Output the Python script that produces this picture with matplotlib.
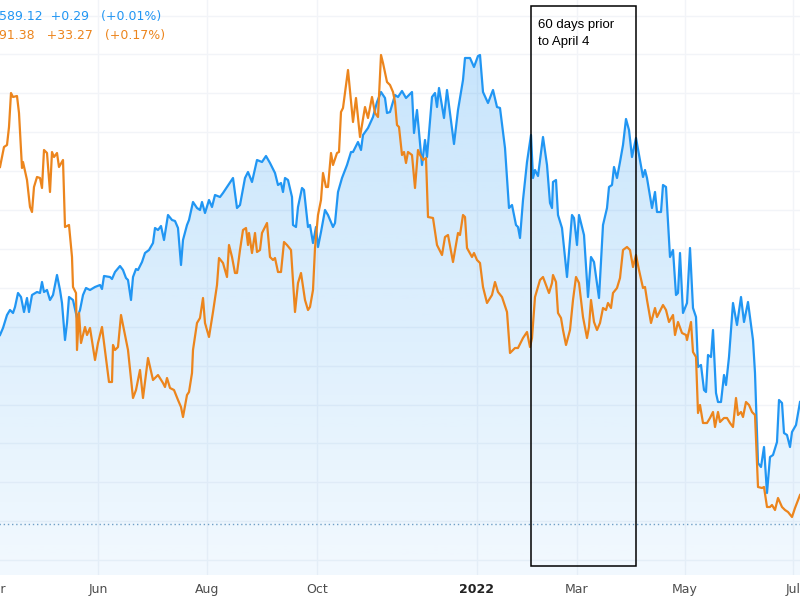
import numpy as np
import matplotlib
matplotlib.use("Agg")
import matplotlib.pyplot as plt
from matplotlib.colors import to_rgb
from matplotlib.patches import Rectangle
import matplotlib.transforms as mtransforms

# time index (sessions, chart units) and levels
blue_t = [0, 3, 7, 10, 13, 15, 18, 21, 24, 27, 29, 32, 37, 40, 42, 44, 47, 50, 53, 57,
          60, 62, 65, 67, 69, 73, 77, 80, 83, 86, 90, 95, 100, 102, 104, 110, 112, 115, 120, 123,
          126, 128, 131, 133, 136, 138, 142, 145, 149, 153, 155, 158, 161, 164, 168, 172, 175, 178, 181, 183,
          187, 189, 193, 197, 200, 202, 205, 209, 212, 215, 220, 223, 227, 233, 237, 240, 245, 248, 252, 257,
          262, 266, 270, 275, 278, 281, 283, 285, 288, 292, 293, 296, 298, 302, 304, 308, 310, 313, 316, 318,
          321, 325, 328, 333, 335, 338, 342, 347, 351, 353, 358, 361, 363, 368, 373, 377, 381, 385, 387, 390,
          395, 398, 402, 406, 412, 414, 417, 422, 425, 427, 432, 435, 437, 439, 444, 447, 454, 458, 463, 465,
          470, 474, 478, 480, 483, 488, 493, 497, 500, 505, 509, 512, 516, 518, 520, 523, 527, 531, 533, 535,
          538, 543, 547, 550, 552, 553, 556, 558, 562, 567, 572, 574, 577, 579, 584, 588, 591, 594, 599, 603,
          607, 609, 612, 614, 617, 620, 623, 626, 629, 632, 636, 640, 643, 645, 647, 652, 655, 657, 661, 663,
          666, 670, 673, 676, 678, 680, 683, 687, 690, 693, 696, 698, 701, 704, 706, 708, 711, 713, 716, 718,
          721, 724, 726, 729, 733, 737, 741, 744, 748, 753, 755, 758, 761, 764, 767, 770, 773, 777, 779, 782,
          784, 787, 790, 792, 796, 800]
blue_v = [264, 271, 284, 289, 286, 292, 306, 302, 287, 301, 287, 304, 307, 306, 317, 307, 309, 299, 304, 324,
          309, 296, 259, 276, 302, 299, 281, 289, 304, 311, 309, 312, 314, 310, 323, 322, 320, 327, 333, 329,
          321, 319, 299, 322, 330, 329, 337, 346, 349, 356, 371, 369, 373, 359, 384, 379, 378, 371, 334, 359,
          374, 379, 397, 391, 389, 397, 386, 399, 392, 404, 402, 406, 412, 421, 391, 394, 421, 427, 417, 439,
          437, 443, 436, 426, 414, 416, 407, 421, 419, 402, 374, 372, 392, 411, 409, 372, 374, 356, 372, 352,
          367, 389, 384, 372, 376, 407, 421, 434, 447, 447, 457, 449, 464, 471, 482, 497, 507, 501, 486, 487,
          504, 502, 508, 501, 507, 466, 489, 434, 459, 442, 502, 506, 492, 511, 481, 509, 455, 489, 519, 541,
          541, 532, 543, 544, 507, 496, 509, 492, 491, 451, 391, 394, 374, 372, 361, 399, 437, 464, 421, 429,
          423, 462, 434, 396, 391, 417, 419, 384, 371, 322, 384, 381, 354, 384, 364, 302, 342, 337, 301, 374,
          391, 412, 414, 432, 421, 437, 454, 480, 469, 442, 461, 439, 422, 429, 421, 391, 407, 387, 387, 414,
          412, 342, 349, 304, 306, 346, 286, 296, 351, 291, 282, 232, 234, 209, 207, 244, 242, 269, 206, 197,
          197, 224, 214, 242, 296, 274, 302, 277, 297, 259, 226, 136, 132, 152, 106, 142, 144, 157, 199, 196,
          166, 164, 152, 167, 174, 197]

orange_t = [0, 2, 4, 7, 9, 11, 13, 17, 19, 22, 23, 27, 30, 32, 34, 37, 40, 42, 44, 47,
            50, 52, 54, 57, 59, 63, 65, 69, 72, 73, 76, 77, 79, 81, 85, 87, 90, 95, 98, 102,
            109, 112, 113, 115, 118, 121, 125, 128, 133, 136, 140, 143, 148, 153, 158, 163, 165, 167, 170, 174,
            178, 181, 183, 187, 189, 192, 193, 197, 200, 203, 205, 209, 213, 217, 219, 223, 227, 229, 232, 235,
            237, 240, 243, 246, 248, 249, 252, 255, 257, 260, 262, 267, 270, 273, 275, 278, 281, 284, 287, 291,
            295, 298, 301, 305, 308, 310, 313, 315, 318, 321, 323, 326, 328, 331, 333, 337, 339, 341, 343, 348,
            353, 356, 360, 365, 368, 372, 375, 378, 381, 383, 387, 390, 393, 395, 397, 399, 402, 404, 406, 408,
            412, 415, 418, 420, 423, 426, 428, 433, 437, 442, 445, 448, 453, 458, 460, 463, 465, 467, 472, 474,
            477, 480, 483, 487, 492, 495, 498, 502, 507, 510, 515, 518, 523, 527, 530, 532, 535, 540, 543, 549,
            552, 553, 556, 558, 561, 563, 566, 570, 573, 576, 579, 583, 587, 589, 591, 594, 597, 600, 603, 606,
            608, 611, 613, 617, 620, 623, 627, 630, 633, 636, 639, 643, 645, 647, 651, 655, 657, 663, 666, 669,
            673, 675, 678, 682, 686, 687, 691, 693, 696, 698, 700, 703, 707, 710, 713, 715, 718, 720, 724, 727,
            730, 733, 736, 738, 741, 743, 746, 749, 752, 755, 758, 762, 764, 767, 770, 772, 775, 778, 782, 785,
            788, 792, 795, 800]
orange_v = [432, 442, 452, 454, 472, 506, 502, 503, 486, 431, 437, 419, 392, 387, 412, 422, 421, 411, 449, 446,
            407, 447, 442, 446, 432, 439, 372, 374, 342, 312, 306, 249, 286, 256, 272, 264, 271, 239, 256, 272,
            217, 217, 254, 249, 252, 284, 264, 249, 201, 209, 229, 201, 241, 219, 224, 216, 212, 221, 211, 209,
            199, 192, 182, 204, 207, 226, 249, 276, 281, 301, 276, 262, 287, 314, 341, 336, 322, 354, 342, 326,
            326, 349, 369, 371, 354, 366, 346, 366, 347, 349, 366, 376, 342, 339, 341, 327, 327, 357, 354, 349,
            287, 316, 326, 299, 289, 292, 309, 351, 384, 399, 426, 412, 412, 446, 434, 446, 447, 487, 491, 529,
            477, 501, 462, 492, 481, 502, 486, 482, 544, 536, 517, 514, 507, 497, 474, 472, 444, 447, 436, 447,
            444, 411, 449, 444, 439, 441, 382, 381, 354, 344, 362, 364, 337, 366, 364, 384, 382, 351, 342, 346,
            339, 336, 312, 296, 304, 317, 307, 302, 287, 246, 251, 251, 261, 267, 252, 261, 302, 319, 322, 306,
            316, 324, 317, 286, 281, 269, 254, 269, 299, 322, 316, 282, 261, 272, 299, 277, 269, 276, 291, 289,
            296, 291, 306, 311, 321, 349, 352, 349, 332, 344, 329, 311, 312, 299, 276, 291, 282, 294, 289, 277,
            284, 264, 277, 266, 264, 259, 277, 247, 242, 186, 194, 176, 176, 181, 187, 172, 187, 177, 181, 181,
            176, 172, 201, 184, 187, 182, 197, 194, 187, 184, 112, 111, 112, 92, 92, 94, 89, 101, 92, 89,
            87, 82, 91, 104]

month_pos = [-4, 98, 207, 317, 477, 577, 685, 793]
month_labels = ['Apr', 'Jun', 'Aug', 'Oct', '2022', 'Mar', 'May', 'Jul']

window_start, window_end = 531, 636   # 60 sessions before April 4
price_line = 75

blue = '#2196F3'
orange = '#EC851D'

fig = plt.figure(figsize=(8, 6), dpi=100)
ax = fig.add_axes([-20 / 800, 25 / 600, 820 / 800, 575 / 600])
ax.set_xlim(-20, 800)
ax.set_ylim(24, 599)
for s in ax.spines.values():
    s.set_visible(False)

# grid
ax.set_yticks(np.arange(1, 16) * 38.9)
ax.set_xticks(month_pos)
ax.grid(True, color='#f2f4f8', lw=1)
ax.set_axisbelow(True)
ax.tick_params(axis='y', left=False, labelleft=False)
ax.tick_params(axis='x', length=0, pad=6, labelsize=9, labelcolor='#4d4d4d')
ax.set_xticklabels(month_labels)
for lab in ax.get_xticklabels():
    if lab.get_text() == '2022':
        lab.set_fontweight('bold')
        lab.set_color('#222222')

# blue area with vertical gradient
poly = ax.fill_between(blue_t, blue_v, 24, color='none', lw=0)
grad = np.zeros((256, 1, 4))
grad[..., :3] = to_rgb(blue)
grad[:, 0, 3] = np.linspace(0.27, 0.06, 256)
im = ax.imshow(grad, extent=[-20, 800, 24, 599], aspect='auto', origin='upper', zorder=1)
im.set_clip_path(poly.get_paths()[0], ax.transData)

ax.axhline(price_line, color='#6f9fc6', lw=1, ls=(0, (1, 2)), zorder=2)

ax.plot(blue_t, blue_v, color=blue, lw=1.6, zorder=3)
ax.plot(orange_t, orange_v, color=orange, lw=1.6, zorder=4)

# annotation box
trans = mtransforms.blended_transform_factory(ax.transData, ax.transAxes)
ax.add_patch(Rectangle((window_start, 9 / 575), window_end - window_start, 560 / 575,
                       transform=trans, fill=False, edgecolor='black', lw=1.1, zorder=5))
ax.text(window_start + 7, 1 - 19 / 575, '60 days prior\nto April 4', transform=trans,
        ha='left', va='top', fontsize=9.5, family='Liberation Sans', linespacing=1.55,
        color='black', zorder=6)

# legend values at top left
fig.text(-1 / 800, 1 - 20 / 600, '589.12  +0.29   (+0.01%)', color=blue, fontsize=9,
         ha='left', va='baseline')
fig.text(-1 / 800, 1 - 39 / 600, '91.38   +33.27   (+0.17%)', color=orange, fontsize=9,
         ha='left', va='baseline')

fig.savefig('out.png', dpi=100)
